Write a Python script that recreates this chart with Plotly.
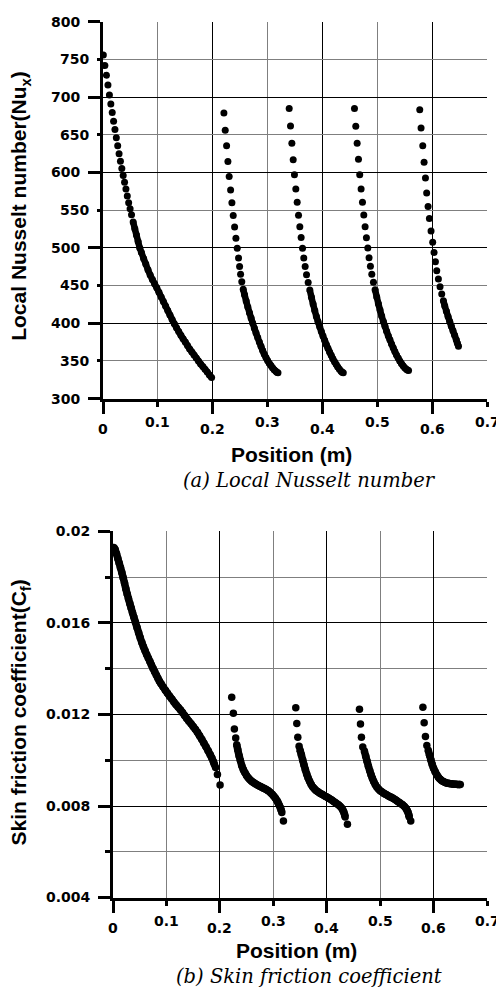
import plotly.graph_objects as go

# ---------------- (a) Local Nusselt number ----------------
nu_pos_1 = [0.0006, 0.0034, 0.0062, 0.009, 0.0117, 0.0143, 0.0168, 0.0193, 0.0218, 0.0243, 0.0268,
            0.0293, 0.0318, 0.0343, 0.0368, 0.0393, 0.0418, 0.0443, 0.0468, 0.0494, 0.052, 0.055,
            0.058, 0.061, 0.064, 0.067, 0.070, 0.074, 0.078, 0.082, 0.086, 0.090, 0.094, 0.098,
            0.102, 0.106, 0.110, 0.114, 0.118, 0.122, 0.126, 0.130, 0.134, 0.138, 0.142, 0.146,
            0.150, 0.154, 0.158, 0.162, 0.166, 0.170, 0.174, 0.178, 0.182, 0.186, 0.190, 0.194, 0.198]
nu_val_1 = [756, 742, 729, 716, 703, 691, 679.5, 668, 657, 646, 635.5, 625, 615, 605.5, 596, 587, 578,
            569, 560, 552, 544, 534.5, 525.5, 517, 508.5, 500, 494, 486, 478.5, 471, 464, 458, 452.5,
            447, 441, 435, 429, 423, 417, 411, 405, 399.5, 394, 389, 384, 379.5, 375, 370.5, 366, 362,
            358, 354, 350, 346, 342.5, 339, 335.5, 331.5, 328]

nu_pos_2 = [0.2204, 0.2228, 0.2253, 0.2277, 0.2300, 0.2326, 0.2350, 0.2374, 0.2399, 0.2423, 0.2447,
            0.2471, 0.2490, 0.2508, 0.2530, 0.2556, 0.258, 0.261, 0.264, 0.267, 0.270, 0.273, 0.276,
            0.279, 0.282, 0.285, 0.288, 0.291, 0.294, 0.297, 0.300, 0.303, 0.306, 0.309, 0.312, 0.315,
            0.317, 0.319]
nu_val_2 = [679, 656, 635.5, 614.6, 594.6, 576.8, 560, 543, 527.6, 512.8, 499.7, 486.7, 475.3, 464.9,
            455, 445, 438, 429.5, 421.5, 414, 407, 400, 393.5, 387, 381, 375, 369.5, 364, 359, 354.5,
            350.5, 347, 344, 341, 338.5, 336.5, 335, 334.5]

nu_pos_3 = [0.3394, 0.3418, 0.3443, 0.3467, 0.3490, 0.3515, 0.3540, 0.3564, 0.3588, 0.3612, 0.3637,
            0.3660, 0.3685, 0.3710, 0.3740, 0.3770, 0.380, 0.383, 0.386, 0.389, 0.392, 0.395, 0.398,
            0.401, 0.404, 0.407, 0.410, 0.413, 0.416, 0.419, 0.422, 0.425, 0.428, 0.431, 0.434, 0.436,
            0.438]
nu_val_3 = [685, 661.6, 639, 617, 597, 578, 560.5, 543.3, 528, 513.7, 499.7, 486.7, 475.3, 464.5, 454,
            444, 434.5, 425.5, 417, 409, 402, 395.5, 389, 383, 377.5, 372, 367, 362, 357.5, 353, 349,
            345.5, 342, 339, 336.5, 335, 334.5]

nu_pos_4 = [0.4584, 0.4608, 0.4633, 0.4657, 0.4680, 0.4705, 0.4730, 0.4754, 0.4778, 0.4802, 0.4827,
            0.4850, 0.4875, 0.4900, 0.4930, 0.4960, 0.499, 0.502, 0.505, 0.508, 0.511, 0.514, 0.517,
            0.520, 0.523, 0.526, 0.529, 0.532, 0.535, 0.538, 0.541, 0.544, 0.547, 0.550, 0.553, 0.555,
            0.557]
nu_val_4 = [685, 661.5, 639, 617.5, 597, 578, 560.5, 543.5, 528, 513.5, 500, 487, 475.5, 465, 454.5,
            444.5, 435, 426, 417.5, 409.5, 402.5, 396, 389.5, 383.5, 378, 372.5, 367.5, 362.5, 358,
            354, 350, 346.5, 343.5, 341, 339, 338, 337.5]

nu_pos_5 = [0.5774, 0.5798, 0.5829, 0.5853, 0.5878, 0.5900, 0.5926, 0.5950, 0.5980, 0.6010, 0.6035,
            0.6060, 0.6084, 0.6114, 0.6144, 0.6175, 0.6205, 0.623, 0.626, 0.629, 0.632, 0.635, 0.638,
            0.641, 0.644, 0.646, 0.648]
nu_val_5 = [683.4, 659, 635.5, 613.7, 592.8, 573, 555, 539, 522.3, 507.6, 494, 481.5, 469.7, 458.8,
            448.3, 438.8, 430, 423, 416, 409, 402.5, 396, 390, 384, 378, 373.5, 369.5]

# index ranges (per segment) where the plotted dots run together into a solid band
nu_dense = [(21, None), (15, None), (15, None), (15, None), (16, None)]

# ---------------- (b) Skin friction coefficient ----------------
cf_pos_1 = [0.0015, 0.004, 0.0065, 0.009, 0.0115, 0.014, 0.0165, 0.019, 0.0215, 0.024, 0.0265, 0.029,
            0.0315, 0.034, 0.0365, 0.039, 0.042, 0.045, 0.048, 0.051, 0.054, 0.057, 0.060, 0.063,
            0.066, 0.069, 0.072, 0.075, 0.078, 0.081, 0.084, 0.087, 0.090, 0.094, 0.098, 0.102, 0.106,
            0.110, 0.114, 0.118, 0.122, 0.126, 0.130, 0.134, 0.138, 0.142, 0.146, 0.150, 0.154, 0.158,
            0.162, 0.166, 0.170, 0.174, 0.178, 0.182, 0.185, 0.188, 0.190, 0.192, 0.1955, 0.2004]
cf_val_1 = [0.01930, 0.01921, 0.01903, 0.01882, 0.01862, 0.01842, 0.01821, 0.01798, 0.01775, 0.01750,
            0.01727, 0.01706, 0.01685, 0.01665, 0.01645, 0.01626, 0.01603, 0.01580, 0.01557, 0.01535,
            0.01515, 0.01496, 0.01479, 0.01462, 0.01447, 0.01432, 0.01416, 0.01401, 0.01387, 0.01373,
            0.01359, 0.01345, 0.01334, 0.01320, 0.01306, 0.01293, 0.01280, 0.01268, 0.01255, 0.01243,
            0.01232, 0.01221, 0.01209, 0.01196, 0.01183, 0.01171, 0.01160, 0.01148, 0.01136, 0.01122,
            0.01107, 0.01092, 0.01075, 0.01059, 0.01042, 0.01024, 0.01010, 0.00993, 0.00980, 0.00968,
            0.00938, 0.00892]

cf_pos_2 = [0.2222, 0.2253, 0.2272, 0.2297, 0.2316, 0.2335, 0.236, 0.2385, 0.241, 0.244, 0.247, 0.250,
            0.253, 0.256, 0.259, 0.262, 0.265, 0.268, 0.271, 0.274, 0.277, 0.280, 0.283, 0.286, 0.289,
            0.292, 0.295, 0.298, 0.301, 0.304, 0.307, 0.309, 0.311, 0.313, 0.3145, 0.316, 0.319]
cf_val_2 = [0.01275, 0.01205, 0.01137, 0.01097, 0.01068, 0.01046, 0.01020, 0.00998, 0.00977, 0.00959,
            0.00945, 0.00933, 0.00924, 0.00916, 0.00909, 0.00904, 0.00899, 0.00895, 0.00891, 0.00887,
            0.00884, 0.00880, 0.00877, 0.00873, 0.00869, 0.00864, 0.00858, 0.00851, 0.00843, 0.00834,
            0.00823, 0.00814, 0.00804, 0.00794, 0.00784, 0.00772, 0.00734]

cf_pos_3 = [0.3421, 0.3440, 0.3459, 0.3483, 0.350, 0.3525, 0.355, 0.3575, 0.360, 0.3625, 0.365, 0.368,
            0.371, 0.374, 0.377, 0.380, 0.383, 0.386, 0.389, 0.392, 0.395, 0.398, 0.401, 0.404, 0.407,
            0.410, 0.413, 0.416, 0.419, 0.422, 0.425, 0.4275, 0.430, 0.432, 0.4335, 0.4345, 0.4388]
cf_val_3 = [0.01229, 0.01161, 0.01101, 0.01061, 0.01045, 0.01024, 0.01001, 0.00979, 0.00959, 0.00940,
            0.00924, 0.00908, 0.00894, 0.00883, 0.00875, 0.00868, 0.00863, 0.00858, 0.00854, 0.00850,
            0.00846, 0.00842, 0.00838, 0.00834, 0.00830, 0.00825, 0.00820, 0.00815, 0.00810, 0.00805,
            0.00799, 0.00792, 0.00783, 0.00773, 0.00762, 0.00752, 0.00720]

cf_pos_4 = [0.4613, 0.4632, 0.4650, 0.4675, 0.4705, 0.473, 0.4755, 0.478, 0.4805, 0.483, 0.4855, 0.488,
            0.491, 0.494, 0.497, 0.500, 0.503, 0.506, 0.509, 0.512, 0.515, 0.518, 0.521, 0.524, 0.527,
            0.530, 0.533, 0.536, 0.539, 0.542, 0.545, 0.5475, 0.550, 0.552, 0.5535, 0.5545, 0.5573]
cf_val_4 = [0.01223, 0.01159, 0.01101, 0.01058, 0.01040, 0.01018, 0.00996, 0.00974, 0.00955, 0.00937,
            0.00921, 0.00907, 0.00893, 0.00882, 0.00874, 0.00867, 0.00862, 0.00857, 0.00853, 0.00849,
            0.00845, 0.00841, 0.00838, 0.00834, 0.00830, 0.00825, 0.00820, 0.00815, 0.00810, 0.00805,
            0.00799, 0.00792, 0.00783, 0.00773, 0.00762, 0.00752, 0.00735]

cf_pos_5 = [0.5800, 0.5824, 0.5848, 0.5874, 0.590, 0.5925, 0.595, 0.5975, 0.600, 0.603, 0.606, 0.609,
            0.612, 0.615, 0.618, 0.621, 0.624, 0.627, 0.630, 0.633, 0.636, 0.639, 0.642, 0.645, 0.648,
            0.650]
cf_val_5 = [0.01232, 0.01164, 0.01104, 0.01064, 0.01044, 0.01022, 0.01001, 0.00981, 0.00965, 0.00950,
            0.00937, 0.00926, 0.00918, 0.00912, 0.00907, 0.00904, 0.00901, 0.00899, 0.00898, 0.00897,
            0.00896, 0.00895, 0.00895, 0.00894, 0.00894, 0.00894]

cf_dense = [(0, 59), (4, 36), (4, 36), (4, 36), (4, None)]

# ---------------- ticks / texts ----------------
x_major = [0, 0.2, 0.4, 0.6]
x_major_text = ["0", "0.2", "0.4", "0.6"]
x_minor = [0.1, 0.3, 0.5, 0.7]
x_minor_text = ["0.1", "0.3", "0.5", "0.7"]
nu_major = [300, 400, 500, 600, 700, 800]
nu_minor = [350, 450, 550, 650, 750]
cf_major = [0.004, 0.008, 0.012, 0.016, 0.02]
cf_major_text = ["0.004", "0.008", "0.012", "0.016", "0.02"]
cf_minor = [0.006, 0.010, 0.014, 0.018]

x_title = "Position (m)"
nu_title = "Local Nusselt number(Nu<sub>x</sub>)"
cf_title = "Skin friction coefficient(C<sub>f</sub>)"
cap_a = "(a) Local Nusselt number"
cap_b = "(b) Skin friction coefficient"

nu_segments = [(nu_pos_1, nu_val_1), (nu_pos_2, nu_val_2), (nu_pos_3, nu_val_3),
               (nu_pos_4, nu_val_4), (nu_pos_5, nu_val_5)]
cf_segments = [(cf_pos_1, cf_val_1), (cf_pos_2, cf_val_2), (cf_pos_3, cf_val_3),
               (cf_pos_4, cf_val_4), (cf_pos_5, cf_val_5)]

W, H = 496, 999
fig = go.Figure()

# empty trace so the overlay y-axis (minor labels) is built
fig.add_trace(go.Scatter(x=[], y=[], xaxis="x", yaxis="y3", showlegend=False))

def add_series(segments, dense, xa, ya, msize, lwidth):
    for (xs, ys), (a, b) in zip(segments, dense):
        fig.add_trace(go.Scatter(x=xs[a:b], y=ys[a:b], mode="lines",
                                 line=dict(color="black", width=lwidth, shape="spline", smoothing=0.6),
                                 xaxis=xa, yaxis=ya, showlegend=False, hoverinfo="skip"))
        fig.add_trace(go.Scatter(x=xs, y=ys, mode="markers",
                                 marker=dict(color="black", size=msize, symbol="circle"),
                                 xaxis=xa, yaxis=ya, showlegend=False, hoverinfo="skip"))

add_series(nu_segments, nu_dense, "x", "y", 7, 6.5)
add_series(cf_segments, cf_dense, "x2", "y2", 7.5, 7.5)

TF = dict(family="DejaVu Sans", size=14, color="black", weight="bold")
GRID_MAJ = "black"
GRID_MIN = "#7f7f7f"

def x_axis(**kw):
    d = dict(showline=True, linewidth=3, linecolor="black", ticks="outside", ticklen=12,
             tickwidth=3, tickcolor="black", zeroline=False, showgrid=True, gridwidth=1,
             gridcolor=GRID_MAJ, showticklabels=False, tickmode="array", fixedrange=True,
             range=[0, 0.7], tickvals=x_major,
             minor=dict(tickvals=x_minor, ticks="outside", ticklen=5, tickwidth=3,
                        tickcolor="black", showgrid=True, gridcolor=GRID_MIN, gridwidth=1))
    d.update(kw)
    return d

def y_axis(**kw):
    d = dict(showline=True, linewidth=3, linecolor="black", ticks="outside", ticklen=12,
             tickwidth=3, tickcolor="black", zeroline=False, showgrid=True, gridwidth=1,
             gridcolor=GRID_MAJ, tickfont=TF, tickmode="array", fixedrange=True,
             ticklabelstandoff=5)
    d.update(kw)
    return d

top_x = [103 / W, 487 / W]
top_y = [1 - 397 / H, 1 - 14 / H]
bot_x = [113 / W, 487 / W]
bot_y = [1 - 904 / H, 1 - 532 / H]

fig.update_layout(
    width=W, height=H, autosize=False,
    margin=dict(l=0, r=0, t=0, b=0),
    paper_bgcolor="white", plot_bgcolor="rgba(0,0,0,0)",
    showlegend=False,
    xaxis=x_axis(domain=top_x, anchor="y"),
    yaxis=y_axis(domain=top_y, anchor="x", range=[300, 800], tickvals=nu_major,
                 ticktext=[str(v) for v in nu_major]),
    yaxis3=dict(overlaying="y", anchor="x", side="left", range=[300, 800], tickmode="array",
                tickvals=nu_minor, ticktext=[str(v) for v in nu_minor], showline=False,
                ticks="outside", ticklen=5, tickwidth=3, tickcolor="black", zeroline=False,
                showgrid=True, gridwidth=1, gridcolor=GRID_MIN, tickfont=TF, fixedrange=True,
                ticklabelstandoff=5),
    xaxis2=x_axis(domain=bot_x, anchor="y2"),
    yaxis2=y_axis(domain=bot_y, anchor="x2", range=[0.004, 0.02], tickvals=cf_major,
                  ticktext=cf_major_text,
                  minor=dict(tickvals=cf_minor, ticks="outside", ticklen=5, tickwidth=3,
                             tickcolor="black", showgrid=True, gridcolor=GRID_MIN, gridwidth=1)),
)

# staggered x tick labels (Excel style), placed on the x data scale
for xa, yd in (("x", top_y), ("x2", bot_y)):
    for vals, texts, shift in ((x_major, x_major_text, -30), (x_minor, x_minor_text, -23)):
        for v, t in zip(vals, texts):
            fig.add_annotation(x=v, xref=xa, y=yd[0], yref="paper", text=t, showarrow=False,
                               xanchor="center", yanchor="middle", yshift=shift, font=TF)

TITLE_F = dict(family="Liberation Sans", size=21, color="black", weight="bold")
CAP_F = dict(family="DejaVu Serif", size=19.5, color="black", style="italic")

ann = [
    dict(text=nu_title, x=20 / W, y=1 - 201 / H, textangle=-90, font=TITLE_F),
    dict(text=x_title, x=291 / W, y=1 - 454 / H, font=TITLE_F),
    dict(text=cap_a, x=309 / W, y=1 - 480 / H, font=CAP_F),
    dict(text=cf_title, x=20 / W, y=1 - 716 / H, textangle=-90, font=TITLE_F),
    dict(text=x_title, x=296 / W, y=1 - 958 / H, font=TITLE_F),
    dict(text=cap_b, x=309 / W, y=1 - 984 / H, font=CAP_F),
]
for a in ann:
    fig.add_annotation(xref="paper", yref="paper", xanchor="center", yanchor="middle",
                       showarrow=False, **a)

fig.write_html("out.html")
